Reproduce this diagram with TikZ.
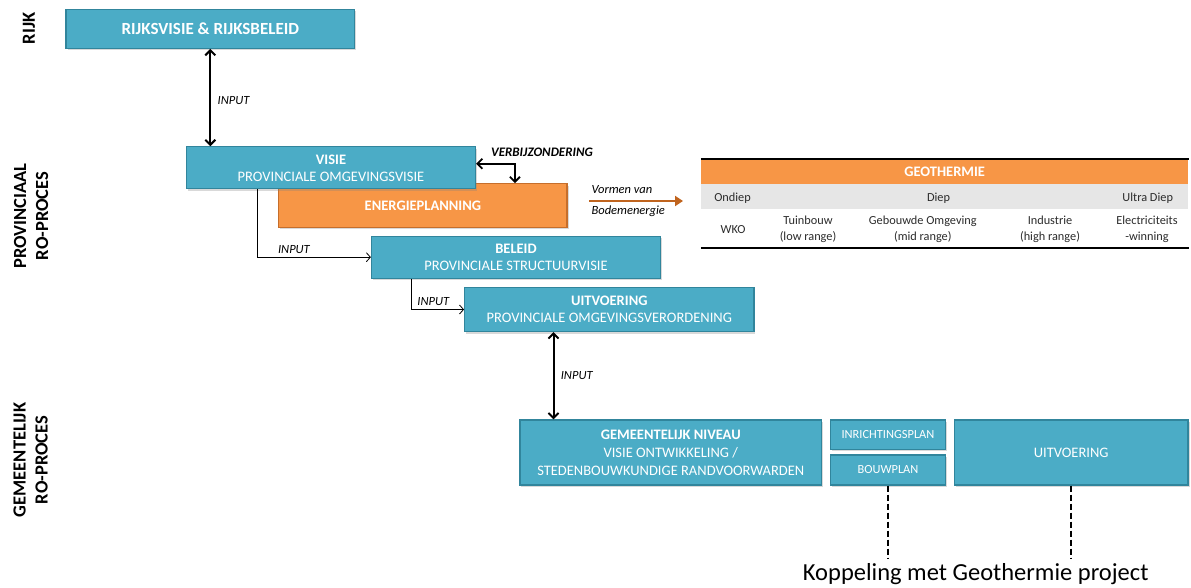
\documentclass[tikz,border=0pt]{standalone}
\usepackage{fontspec}
\setmainfont{Carlito}
\usetikzlibrary{arrows.meta,shadows}
\definecolor{blauw}{HTML}{4BACC6}
\definecolor{blauwrand}{HTML}{31859C}
\definecolor{oranje}{HTML}{F79646}
\definecolor{oranjerand}{HTML}{C66E2B}
\definecolor{bruin}{HTML}{C0641E}
\definecolor{grijs}{HTML}{E6E6E6}
\definecolor{tekst}{HTML}{2B2B2B}

\tikzset{
	blok/.style={rectangle, draw=blauwrand, fill=blauw, line width=1.2pt, text=white, align=center, inner sep=0pt, font=\fontsize{14.5}{17}\selectfont, drop shadow={opacity=0.3, shadow xshift=1.5pt, shadow yshift=-2pt}},
	oblok/.style={blok, draw=oranjerand, fill=oranje},
	niveau/.style={rotate=90, align=center, font=\fontsize{18.5}{22}\bfseries\selectfont},
	invoer/.style={font=\fontsize{12.5}{14}\itshape\selectfont},
	cel/.style={text=tekst, align=center, font=\fontsize{12.3}{15.6}\selectfont},
}

\begin{document}
\begin{tikzpicture}[x=1pt, y=-1pt, >={Straight Barb[length=5pt,width=10pt]}]
	\useasboundingbox (0,0) rectangle (1191,588);

	% niveaus links
	\node[niveau] (lrijk) at (29, 28.5) {RIJK};
	\node[niveau] (lprov) at (31, 216) {PROVINCIAAL\\RO-PROCES};
	\node[niveau] (lgem) at (30.5, 460) {GEMEENTELIJK\\RO-PROCES};

	% blokken
	\node[blok, minimum width=288.5pt, minimum height=39pt, font=\fontsize{17}{20}\bfseries\selectfont] (rijk) at (210.3, 28.8) {RIJKSVISIE \& RIJKSBELEID};
	\node[oblok, minimum width=288.3pt, minimum height=43.6pt, font=\fontsize{14.5}{17}\bfseries\selectfont] (energie) at (422.9, 205.5) {ENERGIEPLANNING};
	\node[blok, minimum width=289pt, minimum height=42pt] (visie) at (331, 167.8) {\textbf{VISIE}\\PROVINCIALE OMGEVINGSVISIE};
	\node[blok, minimum width=289pt, minimum height=42pt] (beleid) at (516, 257.2) {\textbf{BELEID}\\PROVINCIALE STRUCTUURVISIE};
	\node[blok, minimum width=289.3pt, minimum height=44pt] (uitv) at (609.3, 309.5) {\textbf{UITVOERING}\\PROVINCIALE OMGEVINGSVERORDENING};
	\node[blok, minimum width=301.7pt, minimum height=65pt, font=\fontsize{14.5}{18}\selectfont] (gemniv) at (670.8, 452.5) {\textbf{GEMEENTELIJK NIVEAU}\\VISIE ONTWIKKELING /\\STEDENBOUWKUNDIGE RANDVOORWARDEN};
	\node[blok, minimum width=115pt, minimum height=29.3pt, font=\fontsize{12.4}{14}\selectfont] (inricht) at (888, 434.7) {INRICHTINGSPLAN};
	\node[blok, minimum width=115pt, minimum height=30pt, font=\fontsize{12.4}{14}\selectfont] (bouw) at (888, 470) {BOUWPLAN};
	\node[blok, minimum width=233.6pt, minimum height=65pt] (uitvg) at (1071.2, 452.5) {UITVOERING};

	% pijlen
	\draw[<->, line width=2pt] (rijk.south) -- (rijk.south |- visie.north) node[midway, right, invoer, xshift=3pt, yshift=-3pt] {INPUT};
	\draw[<->, line width=1.8pt] ([yshift=4pt]visie.east) -| ([xshift=92pt]energie.north);
	\node[font=\fontsize{13}{15}\bfseries\itshape\selectfont] (verbij) at (542, 152.7) {VERBIJZONDERING};
	\draw[-{Straight Barb[length=4pt,width=9pt]}, line width=0.8pt] ([xshift=-73.3pt]visie.south) |- (beleid.west) node[pos=0.66, above, invoer] {INPUT};
	\draw[-{Straight Barb[length=4pt,width=9pt]}, line width=0.8pt] ([xshift=-105pt]beleid.south) |- (uitv.west) node[pos=0.71, above, invoer] {INPUT};
	\draw[<->, line width=2pt] ([xshift=-55.8pt]uitv.south) -- ([xshift=-55.8pt]uitv.south |- gemniv.north) node[midway, right, invoer, xshift=3pt] {INPUT};

	% bodemenergie
	\coordinate (v1) at (589, 201);
	\coordinate (v2) at (683, 201);
	\draw[-{Triangle[length=8pt,width=10pt]}, bruin, line width=2.5pt] (v1) -- (v2);
	\node[invoer, anchor=west] (vormen) at (588, 190) {Vormen van};
	\node[invoer, anchor=west] (bodem) at (588, 211) {Bodemenergie};

	% tabel geothermie
	\node[rectangle, fill=oranje, minimum width=487.3pt, minimum height=25pt, inner sep=0pt, text=white, font=\fontsize{14.5}{17}\bfseries\selectfont] (geo) at (944.65, 171.8) {GEOTHERMIE};
	\node[rectangle, fill=grijs, minimum width=487.3pt, minimum height=25pt, inner sep=0pt] (diep) at (944.65, 196.8) {};
	\node[rectangle, minimum width=487.3pt, minimum height=38pt, inner sep=0pt] (rij3) at (944.65, 228.3) {};
	\draw[line width=2pt] (geo.north west) -- (geo.north east);
	\draw[line width=2pt] (rij3.south west) -- (rij3.south east);
	\node[cel] (c1) at (732.5, 198) {Ondiep};
	\node[cel] (c2) at (938.5, 198) {Diep};
	\node[cel] (c3) at (1147.7, 198) {Ultra Diep};
	\node[cel] (c4) at (733, 229.5) {WKO};
	\node[cel] (c5) at (808, 229.5) {Tuinbouw\\(low range)};
	\node[cel] (c6) at (922.8, 229.5) {Gebouwde Omgeving\\(mid range)};
	\node[cel] (c7) at (1050, 229.5) {Industrie\\(high range)};
	\node[cel] (c8) at (1147, 229.5) {Electriciteits\\-winning};

	% koppeling
	\node[font=\fontsize{24.5}{28}\selectfont, inner xsep=2pt, inner ysep=5pt] (kop) at (975.7, 574.3) {Koppeling met Geothermie project};
	\draw[line width=1.8pt, dash pattern=on 6pt off 3pt] (bouw.south) -- (bouw.south |- kop.north);
	\draw[line width=1.8pt, dash pattern=on 6pt off 3pt] (uitvg.south) -- (uitvg.south |- kop.north);
\end{tikzpicture}
\end{document}
